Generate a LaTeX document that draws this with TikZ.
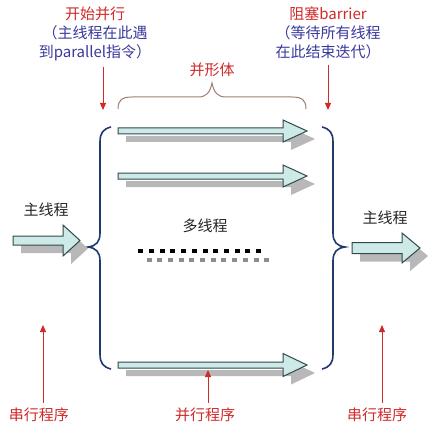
\documentclass[tikz,border=0pt]{standalone}
\usepackage{fontspec}
\setmainfont{Noto Sans CJK SC}
\usetikzlibrary{arrows.meta}
\definecolor{lred}{HTML}{D02A2A}
\definecolor{lblue}{HTML}{3A3A9E}
\definecolor{brblue}{HTML}{1F3A6E}
\definecolor{afill}{HTML}{CDEAE8}
\definecolor{aline}{HTML}{2E4A4A}
\definecolor{ashadow}{HTML}{B8B8B8}
\definecolor{bbrown}{HTML}{A08070}
\newcommand\blockarrow[6]{% start, head start, tip, y, shaft half, head half
  \fill[ashadow,shift={(8,8)}] (#1,#4-#5) -- (#2,#4-#5) -- (#2,#4-#6) -- (#3,#4) -- (#2,#4+#6) -- (#2,#4+#5) -- (#1,#4+#5) -- cycle;
  \draw[arrowbox] (#1,#4-#5) -- (#2,#4-#5) -- (#2,#4-#6) -- (#3,#4) -- (#2,#4+#6) -- (#2,#4+#5) -- (#1,#4+#5) -- cycle;
}
\tikzset{
  arrowbox/.style={fill=afill,draw=aline,line width=1pt,line join=miter},
  redlabel/.style={text=lred,font=\fontsize{15}{19}\selectfont,inner sep=2pt},
  bluenote/.style={text=lblue,font=\fontsize{15}{19}\selectfont,align=center,inner sep=2pt},
  blacklabel/.style={text=black!85,font=\fontsize{15}{19}\selectfont,inner sep=2pt},
  redarrow/.style={draw=lred,line width=1pt,-{Triangle[length=7pt,width=6pt]}},
  bracev/.style={draw=brblue,line width=1.6pt},
  braceh/.style={draw=bbrown,line width=1pt},
  dotblack/.style={fill=black},
  dotgrey/.style={fill=black!45}
}
\begin{document}
\begin{tikzpicture}[x=1pt,y=-1pt]
\useasboundingbox (0,0) rectangle (439,433);
\fill[white] (0,0) rectangle (439,433);

% top labels
\node[redlabel] (start) at (95,14) {开始并行};
\node[bluenote,anchor=north] (startnote) at (95,23) {（主线程在此遇\\到parallel指令）};
\node[redlabel] (barrier) at (328,14) {阻塞barrier};
\node[bluenote,anchor=north] (barriernote) at (328,23) {（等待所有线程\\在此结束迭代）};
\coordinate (sa) at (103,110);
\coordinate (ba) at (328,110);
\draw[redarrow] (startnote.south -| sa) ++(0,4) -- (sa);
\draw[redarrow] (barriernote.south -| ba) ++(0,4) -- (ba);

% horizontal brace
\node[redlabel] (team) at (212,70) {并形体};
\draw[braceh] (118,109) .. controls (118,100) and (122,97) .. (132,97) -- (198,97)
  .. controls (206,97) and (210,93) .. (212,83)
  .. controls (214,93) and (218,97) .. (226,97) -- (292,97)
  .. controls (302,97) and (306,100) .. (306,109);

% vertical braces
\draw[bracev] (111,127) .. controls (103,129) and (100,133) .. (100,142) -- (100,233)
  .. controls (100,242) and (96,246) .. (88,247)
  .. controls (96,248) and (100,252) .. (100,261) -- (100,354)
  .. controls (100,363) and (103,367) .. (111,369);
\draw[bracev] (322,127) .. controls (330,129) and (333,133) .. (333,142) -- (333,233)
  .. controls (333,242) and (337,246) .. (345,247)
  .. controls (337,248) and (333,252) .. (333,261) -- (333,354)
  .. controls (333,363) and (330,367) .. (322,369);

% block arrows
\blockarrow{118}{283}{307}{131}{3}{11}
\blockarrow{118}{283}{307}{176}{3}{11}
\blockarrow{118}{283}{307}{365}{3}{11.5}
\blockarrow{13}{63}{80}{240.5}{4.5}{15.5}
\blockarrow{352}{402}{420}{248}{5.5}{15}

% texts
\node[blacklabel] (mainl) at (46,210) {主线程};
\node[blacklabel] (mainr) at (385,218) {主线程};
\node[blacklabel] (multi) at (205,226) {多线程};

% dots
\foreach \i in {0,...,11} {
  \fill[dotgrey] (146.5+10.7*\i,258) rectangle ++(5,4);
  \fill[dotblack] (138.3+10.7*\i,249) rectangle ++(5,4);
}

% bottom labels
\node[redlabel] (serl) at (39,415) {串行程序};
\node[redlabel] (par) at (205,415) {并行程序};
\node[redlabel] (serr) at (377,415) {串行程序};
\coordinate (sl) at (43,325);
\coordinate (pp) at (208,370);
\coordinate (sr) at (382,325);
\draw[redarrow] (serl.north -| sl) ++(0,-3) -- (sl);
\draw[redarrow] (par.north -| pp) ++(0,-3) -- (pp);
\draw[redarrow] (serr.north -| sr) ++(0,-3) -- (sr);
\end{tikzpicture}
\end{document}
